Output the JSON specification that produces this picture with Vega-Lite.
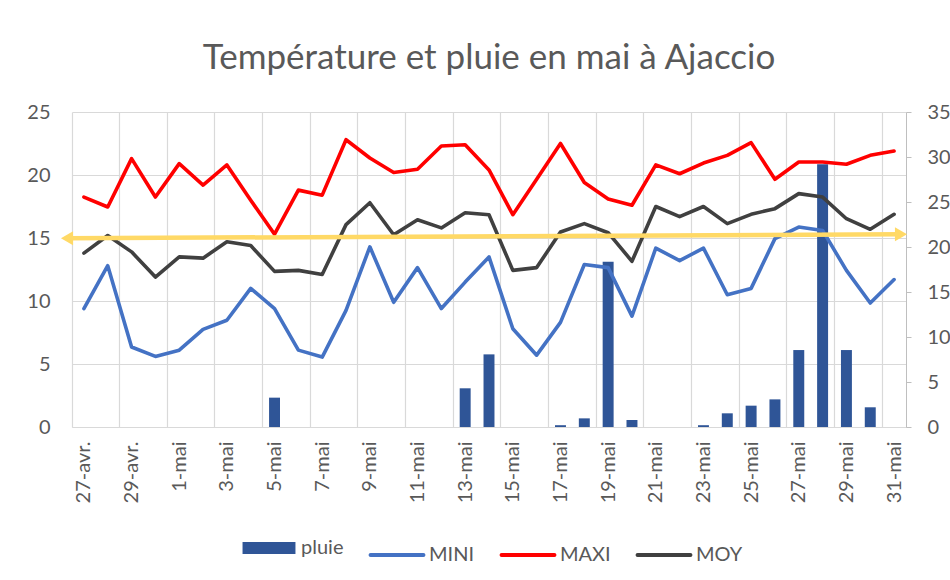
{
  "$schema": "https://vega.github.io/schema/vega-lite/v6.json",
  "width": 834,
  "height": 315,
  "autosize": {"type": "none"},
  "padding": {"left": 72, "top": 112, "right": 44, "bottom": 153},
  "background": "white",
  "title": {
    "text": "Température et pluie en mai à Ajaccio",
    "font": "Lato",
    "fontSize": 35,
    "fontWeight": "normal",
    "color": "#595959",
    "anchor": "middle",
    "offset": 26
  },
  "config": {
    "font": "Lato",
    "view": {"stroke": null},
    "axis": {
      "labelFont": "Lato",
      "labelFontSize": 20,
      "labelColor": "#595959",
      "gridColor": "#D9D9D9",
      "gridWidth": 1.2,
      "domainColor": "#D9D9D9",
      "tickColor": "#BFBFBF",
      "title": null
    },
    "legend": {
      "labelFont": "Lato",
      "labelFontSize": 20,
      "labelColor": "#595959"
    }
  },
  "datasets": {
    "meteo": [
      {"jour": "27-avr.", "MINI": 9.4, "MAXI": 18.25, "MOY": 13.8, "pluie": 0},
      {"jour": "28-avr.", "MINI": 12.8, "MAXI": 17.46, "MOY": 15.2, "pluie": 0},
      {"jour": "29-avr.", "MINI": 6.35, "MAXI": 21.3, "MOY": 13.9, "pluie": 0},
      {"jour": "30-avr.", "MINI": 5.6, "MAXI": 18.25, "MOY": 11.9, "pluie": 0},
      {"jour": "1-mai", "MINI": 6.1, "MAXI": 20.9, "MOY": 13.5, "pluie": 0},
      {"jour": "2-mai", "MINI": 7.75, "MAXI": 19.2, "MOY": 13.4, "pluie": 0},
      {"jour": "3-mai", "MINI": 8.47, "MAXI": 20.8, "MOY": 14.7, "pluie": 0},
      {"jour": "4-mai", "MINI": 11.0, "MAXI": 18.0, "MOY": 14.4, "pluie": 0},
      {"jour": "5-mai", "MINI": 9.4, "MAXI": 15.3, "MOY": 12.35, "pluie": 3.26},
      {"jour": "6-mai", "MINI": 6.1, "MAXI": 18.8, "MOY": 12.43, "pluie": 0},
      {"jour": "7-mai", "MINI": 5.55, "MAXI": 18.4, "MOY": 12.1, "pluie": 0},
      {"jour": "8-mai", "MINI": 9.26, "MAXI": 22.8, "MOY": 16.06, "pluie": 0},
      {"jour": "9-mai", "MINI": 14.3, "MAXI": 21.35, "MOY": 17.8, "pluie": 0},
      {"jour": "10-mai", "MINI": 9.9, "MAXI": 20.2, "MOY": 15.26, "pluie": 0},
      {"jour": "11-mai", "MINI": 12.65, "MAXI": 20.45, "MOY": 16.45, "pluie": 0},
      {"jour": "12-mai", "MINI": 9.4, "MAXI": 22.3, "MOY": 15.8, "pluie": 0},
      {"jour": "13-mai", "MINI": 11.5, "MAXI": 22.4, "MOY": 17.0, "pluie": 4.3},
      {"jour": "14-mai", "MINI": 13.5, "MAXI": 20.4, "MOY": 16.85, "pluie": 8.07},
      {"jour": "15-mai", "MINI": 7.8, "MAXI": 16.85, "MOY": 12.43, "pluie": 0},
      {"jour": "16-mai", "MINI": 5.7, "MAXI": 19.66, "MOY": 12.65, "pluie": 0},
      {"jour": "17-mai", "MINI": 8.3, "MAXI": 22.5, "MOY": 15.48, "pluie": 0.2},
      {"jour": "18-mai", "MINI": 12.9, "MAXI": 19.4, "MOY": 16.14, "pluie": 0.96},
      {"jour": "19-mai", "MINI": 12.65, "MAXI": 18.1, "MOY": 15.42, "pluie": 18.35},
      {"jour": "20-mai", "MINI": 8.8, "MAXI": 17.6, "MOY": 13.15, "pluie": 0.78},
      {"jour": "21-mai", "MINI": 14.2, "MAXI": 20.8, "MOY": 17.5, "pluie": 0},
      {"jour": "22-mai", "MINI": 13.2, "MAXI": 20.1, "MOY": 16.7, "pluie": 0},
      {"jour": "23-mai", "MINI": 14.2, "MAXI": 20.95, "MOY": 17.5, "pluie": 0.2},
      {"jour": "24-mai", "MINI": 10.5, "MAXI": 21.56, "MOY": 16.14, "pluie": 1.52},
      {"jour": "25-mai", "MINI": 11.0, "MAXI": 22.57, "MOY": 16.88, "pluie": 2.37},
      {"jour": "26-mai", "MINI": 14.95, "MAXI": 19.66, "MOY": 17.33, "pluie": 3.07},
      {"jour": "27-mai", "MINI": 15.87, "MAXI": 21.03, "MOY": 18.52, "pluie": 8.55},
      {"jour": "28-mai", "MINI": 15.6, "MAXI": 21.03, "MOY": 18.25, "pluie": 29.2},
      {"jour": "29-mai", "MINI": 12.43, "MAXI": 20.85, "MOY": 16.53, "pluie": 8.55},
      {"jour": "30-mai", "MINI": 9.84, "MAXI": 21.56, "MOY": 15.69, "pluie": 2.19},
      {"jour": "31-mai", "MINI": 11.7, "MAXI": 21.9, "MOY": 16.88, "pluie": 0}
    ],
    "fleche": [
      {"position": -0.71, "temp": 14.98, "pointe": "gauche"},
      {"position": 34.29, "temp": 15.29, "pointe": "droite"}
    ]
  },
  "resolve": {"scale": {"x": "independent", "y": "independent"}},
  "layer": [
    {
      "data": {"name": "meteo"},
      "mark": {"type": "bar", "width": {"band": 0.46}},
      "encoding": {
        "x": {
          "field": "jour",
          "type": "ordinal",
          "sort": null,
          "scale": {"paddingInner": 0, "paddingOuter": 0},
          "axis": {
            "orient": "bottom",
            "bandPosition": 0,
            "grid": true,
            "labels": false,
            "ticks": false,
            "domain": false,
            "values": ["27-avr.", "29-avr.", "1-mai", "3-mai", "5-mai", "7-mai", "9-mai", "11-mai", "13-mai", "15-mai", "17-mai", "19-mai", "21-mai", "23-mai", "25-mai", "27-mai", "29-mai", "31-mai"]
          }
        },
        "y": {
          "field": "pluie",
          "type": "quantitative",
          "scale": {"domain": [0, 35], "nice": false},
          "axis": {
            "orient": "right",
            "values": [0, 5, 10, 15, 20, 25, 30, 35],
            "grid": false,
            "domain": true,
            "domainColor": "#BFBFBF",
            "ticks": true,
            "tickSize": 5,
            "labelPadding": 16
          }
        },
        "color": {
          "datum": "pluie",
          "title": null,
          "scale": {
            "domain": ["pluie", "MINI", "MAXI", "MOY"],
            "range": ["#2F5597", "#4472C4", "#FF0000", "#404040"]
          },
          "legend": {
            "orient": "none",
            "direction": "horizontal",
            "legendX": 187,
            "legendY": 426,
            "title": null,
            "symbolType": "stroke",
            "symbolSize": 2800,
            "symbolStrokeWidth": 4,
            "labelOffset": 22,
            "columnPadding": 18,
            "encode": {
              "symbols": {
                "update": {
                  "stroke": {"scale": "color", "field": "value"},
                  "strokeWidth": {"signal": "datum.value === 'pluie' ? 12 : 4"},
                  "strokeCap": {"signal": "datum.value === 'pluie' ? 'butt' : 'round'"}
                }
              }
            }
          }
        }
      }
    },
    {
      "data": {"name": "meteo"},
      "transform": [{"fold": ["MINI", "MAXI", "MOY"], "as": ["serie", "temp"]}],
      "mark": {"type": "line", "strokeWidth": 3.6, "strokeJoin": "round", "strokeCap": "round"},
      "encoding": {
        "x": {
          "field": "jour",
          "type": "ordinal",
          "sort": null,
          "scale": {"paddingInner": 0, "paddingOuter": 0},
          "axis": {
            "orient": "bottom",
            "grid": false,
            "ticks": false,
            "domain": true,
            "domainColor": "#D9D9D9",
            "labelAngle": -90,
            "labelPadding": 14,
            "values": ["27-avr.", "29-avr.", "1-mai", "3-mai", "5-mai", "7-mai", "9-mai", "11-mai", "13-mai", "15-mai", "17-mai", "19-mai", "21-mai", "23-mai", "25-mai", "27-mai", "29-mai", "31-mai"]
          }
        },
        "y": {
          "field": "temp",
          "type": "quantitative",
          "scale": {"domain": [0, 25], "nice": false},
          "axis": {
            "orient": "left",
            "values": [0, 5, 10, 15, 20, 25],
            "grid": true,
            "domain": false,
            "ticks": false,
            "labelPadding": 22
          }
        },
        "color": {"field": "serie", "type": "nominal", "title": null, "legend": {"title": null}},
        "detail": {"field": "serie"}
      }
    },
    {
      "data": {"name": "fleche"},
      "mark": {"type": "line", "color": "#FFD966", "strokeWidth": 4.5},
      "encoding": {
        "x": {"field": "position", "type": "quantitative", "scale": {"domain": [-0.5, 34.5], "nice": false, "zero": false}, "axis": null},
        "y": {"field": "temp", "type": "quantitative", "scale": {"domain": [0, 25], "nice": false}, "axis": null}
      }
    },
    {
      "data": {"name": "fleche"},
      "mark": {"type": "point", "filled": true, "color": "#FFD966", "opacity": 1, "size": 196},
      "encoding": {
        "x": {"field": "position", "type": "quantitative", "scale": {"domain": [-0.5, 34.5], "nice": false, "zero": false}, "axis": null},
        "y": {"field": "temp", "type": "quantitative", "scale": {"domain": [0, 25], "nice": false}, "axis": null},
        "shape": {
          "field": "pointe",
          "type": "nominal",
          "scale": {"domain": ["gauche", "droite"], "range": ["triangle-left", "triangle-right"]},
          "legend": null
        }
      }
    }
  ]
}
